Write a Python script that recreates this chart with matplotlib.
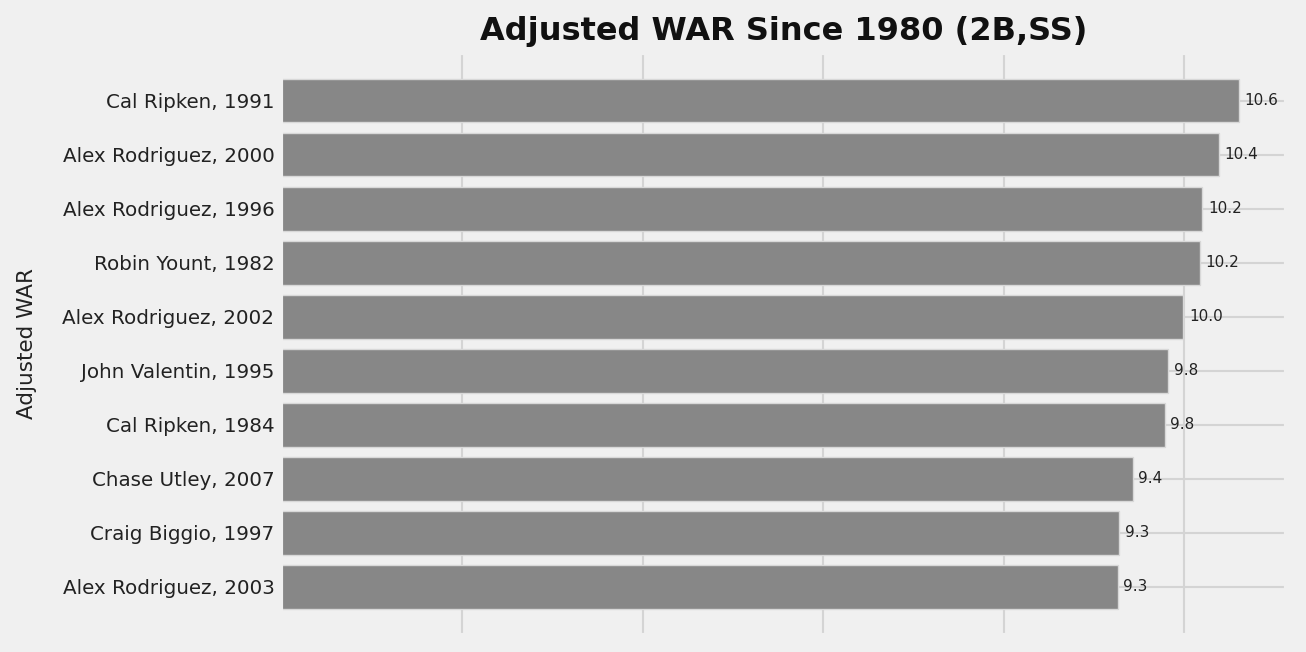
import matplotlib
matplotlib.use('Agg')
import matplotlib.pyplot as plt
import numpy as np

players = [
    'Cal Ripken, 1991',
    'Alex Rodriguez, 2000',
    'Alex Rodriguez, 1996',
    'Robin Yount, 1982',
    'Alex Rodriguez, 2002',
    'John Valentin, 1995',
    'Cal Ripken, 1984',
    'Chase Utley, 2007',
    'Craig Biggio, 1997',
    'Alex Rodriguez, 2003',
]
war = [10.6, 10.38, 10.2, 10.17, 9.99, 9.82, 9.78, 9.43, 9.28, 9.26]

plt.style.use('fivethirtyeight')

fig, ax = plt.subplots(figsize=(13.06, 6.52), dpi=100)
fig.subplots_adjust(left=0.2155, right=0.985, top=0.919, bottom=0.026)

# reverse so the top player sits at the top
names = players[::-1]
vals = war[::-1]
y = np.arange(len(names))
ax.barh(y, vals, height=0.8, color='#878787', edgecolor='#d8d8d8', linewidth=1)
for yi, v in zip(y, vals):
    ax.text(v + 0.06, yi, f'{v:.1f}', va='center', ha='left', fontsize=11, color='#222222')

ax.set_yticks(y)
ax.set_yticklabels(names, fontsize=14.3, color='#222222')
ax.tick_params(axis='y', pad=5)
ax.set_xticks([0, 2, 4, 6, 8, 10])
ax.set_xticklabels([])
ax.set_ylabel('Adjusted WAR', fontsize=15.5, color='#222222', labelpad=18)
ax.set_title('Adjusted WAR Since 1980 (2B,SS)', fontsize=23, fontweight='bold',
             color='#111111', pad=9)
ax.grid(True, color='#d4d4d4', linewidth=1.5)
ax.set_axisbelow(True)
# x=0 gridline sits on the axes edge, so draw it unclipped
ax.axvline(0, color='#d4d4d4', linewidth=1.5, zorder=0.5, clip_on=False)

fig.savefig('out.png', dpi=100, facecolor=fig.get_facecolor())
